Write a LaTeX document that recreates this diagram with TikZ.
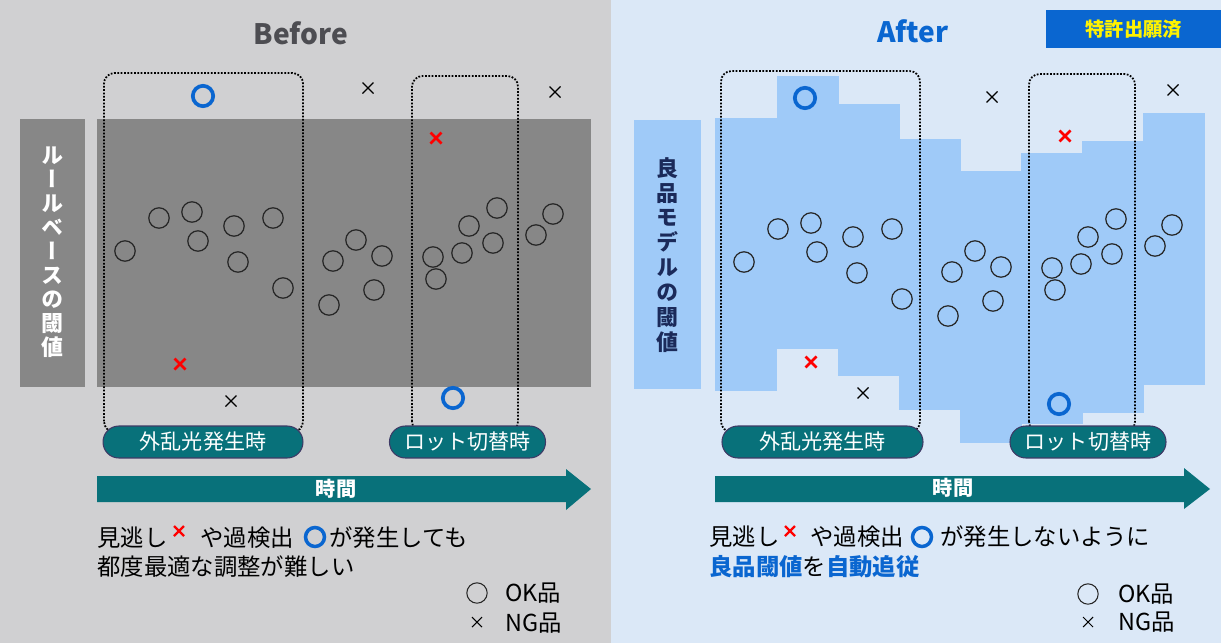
\documentclass[tikz,border=0pt]{standalone}
\usepackage{fontspec}
\setmainfont{Noto Sans CJK JP}
\newfontfamily\tatefont[RawFeature=+vert]{Noto Sans CJK JP}
\usepackage{tikz}
\usetikzlibrary{positioning}

\definecolor{bgbefore}{HTML}{D0D0D2}
\definecolor{bgafter}{HTML}{DBE8F7}
\definecolor{bandgray}{HTML}{878787}
\definecolor{stepblue}{HTML}{9FCAF8}
\definecolor{pillteal}{HTML}{08717A}
\definecolor{pillline}{HTML}{3E3A66}
\definecolor{ngblue}{HTML}{0A66D0}
\definecolor{navy}{HTML}{1B2A5A}
\definecolor{titlegray}{HTML}{4D4D52}

\tikzset{
  okmark/.style={draw=black!85,line width=0.7pt},
  ngblack/.style={draw=black,line width=0.7pt},
  ngred/.style={draw=red,line width=1.5pt},
  overring/.style={draw=ngblue,line width=2.1pt},
  scenebox/.style={draw=black,line width=1pt,dash pattern=on 1pt off 0.9pt,rounded corners=6pt},
  pill/.style={draw=pillline,line width=0.6pt,fill=pillteal,rounded corners=9pt,
    minimum height=18.2pt,inner sep=0pt,text=white,font=\fontsize{12}{14}\selectfont},
  body/.style={anchor=west,inner sep=0pt,font=\fontsize{13.3}{15}\selectfont},
}

\begin{document}
\begin{tikzpicture}[x=0.02cm,y=-0.02cm]
  \useasboundingbox (0,0) rectangle (1221,643);
  % 背景
  \fill[bgbefore] (0,0) rectangle (611,643);
  \fill[bgafter] (611,0) rectangle (1221,643);
  % OK品の位置
  \def\okpts{125/251,159/218,192/212,198/241,234/226,238/262,273/218,283/288,
    333/261,356/240,382/256,374/290,329/305,433/257,436/279,462/253,469/226,
    493/243,497/208,536/235,553/214}

  % ---- Before ----
  \node[font=\fontsize{16}{18}\selectfont\bfseries,text=titlegray] (before) at (301,33) {Before};
  \fill[bandgray] (20,119) rectangle (85,387);
  \fill[bandgray] (97,119) rectangle (591,387);
  \node[align=center,text=white,inner sep=0pt,
    font=\tatefont\bfseries\fontsize{12.5}{13.7}\selectfont] (rulelabel) at (52.5,252)
    {ル\\ー\\ル\\ベ\\ー\\ス\\の\\閾\\値};
  \foreach \px/\py in \okpts
    \draw[okmark] (\px,\py) circle (5.8pt);
  \foreach \px/\py in {368/88,555/92,231/401}
    \draw[ngblack] (\px,\py) ++(-5.5,-5.5) -- ++(11,11) ++(0,-11) -- ++(-11,11);
  \foreach \px/\py in {436/138,180/364}
    \draw[ngred] (\px,\py) ++(-5.5,-5.5) -- ++(11,11) ++(0,-11) -- ++(-11,11);
  \foreach \px/\py in {203/96,453/398}
    \draw[overring] (\px,\py) circle (5.8pt);
  \draw[scenebox] (104,432) rectangle (303,73);
  \draw[scenebox] (412,432) rectangle (518,76);
  \node[pill,minimum width=113.8pt] (lightL) at (203,442) {外乱光発生時};
  \node[pill,minimum width=88.8pt] (lotL) at (467.5,442) {ロット切替時};
  \fill[pillteal] (97,476) -- (566,476) -- (566,469) -- (591,489) -- (566,510)
    -- (566,502) -- (97,502) -- cycle;
  \node[text=white,font=\fontsize{11.5}{13}\selectfont\bfseries] (timeL) at (336,489) {時間};
  \node[body] (missL) at (97,538) {見逃し};
  \draw[ngred,line width=1.3pt] (179,531) ++(-5,-5) -- ++(10,10) ++(0,-10) -- ++(-10,10);
  \node[body] (overL) at (200,538) {や過検出};
  \draw[overring,line width=2pt] (315,537) circle (5.4pt);
  \node[body] (occurL) at (329,538) {が発生しても};
  \node[body] (hardL) at (97,567) {都度最適な調整が難しい};
  \draw[okmark,line width=0.6pt] (477,593) circle (5.8pt);
  \node[body] (okL) at (505,593) {OK品};
  \draw[ngblack,line width=0.6pt] (477,622) ++(-5,-5) -- ++(10,10) ++(0,-10) -- ++(-10,10);
  \node[body] (ngL) at (505,623) {NG品};

  % ---- After ----
  \node[font=\fontsize{16}{18}\selectfont\bfseries,text=ngblue] (after) at (913,31) {After};
  \node[fill=ngblue,anchor=north west,minimum width=99.6pt,minimum height=21.6pt,inner sep=0pt,
    text=yellow,font=\fontsize{11}{13}\selectfont\bfseries] (patent) at (1046,10) {特許出願済};
  \fill[stepblue] (634,120) rectangle (701,389);
  \foreach \xa/\ya/\yb in {715/118/391,777/76/349,838/104/376,899/139/410,
    960/171/443,1021/153/424,1082/141/413,1143/113/385}
    \fill[stepblue] (\xa,\ya) rectangle (\xa+61.5,\yb);
  \node[align=center,text=navy,inner sep=0pt,
    font=\tatefont\bfseries\fontsize{12.5}{14.2}\selectfont] (modellabel) at (667,255)
    {良\\品\\モ\\デ\\ル\\の\\閾\\値};
  \begin{scope}[shift={(619,11)}]
    \foreach \px/\py in \okpts
      \draw[okmark] (\px,\py) circle (5.8pt);
  \end{scope}
  \foreach \px/\py in {992/97,1173/90,863/393}
    \draw[ngblack] (\px,\py) ++(-5.5,-5.5) -- ++(11,11) ++(0,-11) -- ++(-11,11);
  \foreach \px/\py in {1065/136,811/362}
    \draw[ngred] (\px,\py) ++(-5.5,-5.5) -- ++(11,11) ++(0,-11) -- ++(-11,11);
  \foreach \px/\py in {805/98,1059/404}
    \draw[overring] (\px,\py) circle (5.8pt);
  \draw[scenebox] (721,432) rectangle (920,71);
  \draw[scenebox] (1029,432) rectangle (1135,74);
  \node[pill,minimum width=114.4pt] (lightR) at (822.5,442) {外乱光発生時};
  \node[pill,minimum width=88.8pt] (lotR) at (1088,442) {ロット切替時};
  \fill[pillteal] (715,476) -- (1184,476) -- (1184,468) -- (1210,489) -- (1184,509)
    -- (1184,502) -- (715,502) -- cycle;
  \node[text=white,font=\fontsize{11.5}{13}\selectfont\bfseries] (timeR) at (953,488) {時間};
  \node[body] (missR) at (709,537) {見逃し};
  \draw[ngred,line width=1.3pt] (790,531) ++(-5,-5) -- ++(10,10) ++(0,-10) -- ++(-10,10);
  \node[body] (overR) at (810,537) {や過検出};
  \draw[overring,line width=2pt] (922,537) circle (5.4pt);
  \node[body] (occurR) at (940,537) {が発生しないように};
  \node[body] (followR) at (709,567)
    {{\color{ngblue}\bfseries 良品閾値}を{\color{ngblue}\bfseries 自動追従}};
  \draw[okmark,line width=0.6pt] (1088,594) circle (5.8pt);
  \node[body] (okR) at (1118,594) {OK品};
  \draw[ngblack,line width=0.6pt] (1088,622) ++(-5,-5) -- ++(10,10) ++(0,-10) -- ++(-10,10);
  \node[body] (ngR) at (1118,622) {NG品};
\end{tikzpicture}
\end{document}
